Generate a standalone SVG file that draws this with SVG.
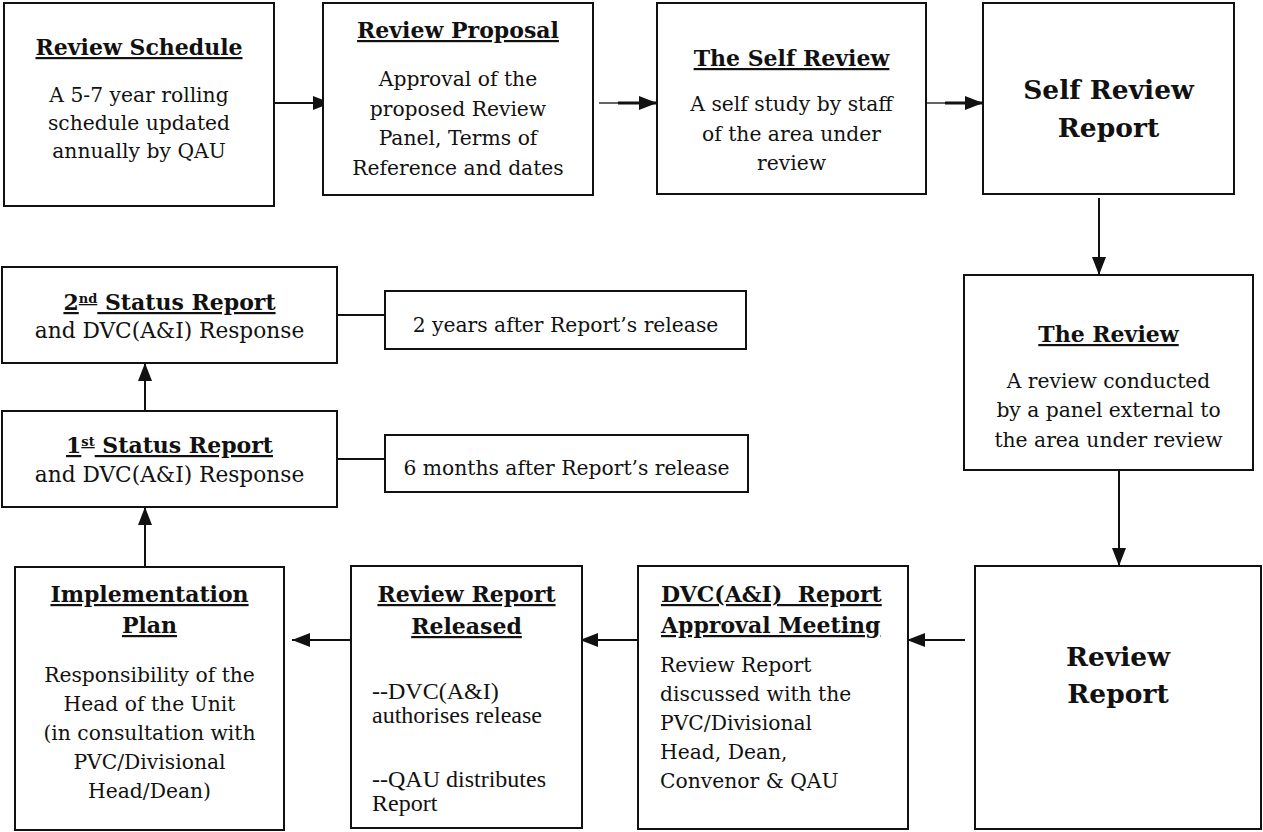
<svg xmlns="http://www.w3.org/2000/svg" width="1263" height="832" viewBox="0 0 1263 832">
<style>
.box{fill:#fff;stroke:#111;stroke-width:2}
.h{font-family:"DejaVu Serif",serif;font-weight:bold;font-size:22px;text-decoration:underline;text-anchor:middle;fill:#111}
.hl{font-family:"DejaVu Serif",serif;font-weight:bold;font-size:22px;text-decoration:underline;fill:#111}
.b{font-family:"DejaVu Serif",serif;font-size:20.3px;text-anchor:middle;fill:#111}
.bl{font-family:"DejaVu Serif",serif;font-size:20.3px;fill:#111}
.bs{font-family:"DejaVu Serif",serif;font-size:21.7px;text-anchor:middle;fill:#111}
.big{font-family:"DejaVu Serif",serif;font-weight:bold;font-size:26.5px;text-anchor:middle;fill:#111}
.t{font-family:"Liberation Serif","Times New Roman",serif;font-size:24px;fill:#111}
.c{stroke:#111;stroke-width:2;fill:none}
.ct{stroke:#111;stroke-width:1.3;fill:none}
.ck{stroke:#111;stroke-width:3;fill:none}
</style>
<defs>
<marker id="ah" markerUnits="userSpaceOnUse" markerWidth="18" markerHeight="14" refX="18" refY="7" orient="auto">
<path d="M0,0 L18,7 L0,14 z" fill="#111"/>
</marker>
</defs>

<g id="connectors">
<line class="c" x1="274" y1="103" x2="331" y2="103" marker-end="url(#ah)"/>
<line class="ct" x1="599" y1="103" x2="619" y2="103"/>
<line class="ck" x1="618" y1="103" x2="657" y2="103" marker-end="url(#ah)"/>
<line class="ct" x1="926" y1="103" x2="946" y2="103"/>
<line class="ck" x1="945" y1="103" x2="983" y2="103" marker-end="url(#ah)"/>
<line class="c" x1="1099" y1="198" x2="1099" y2="275" marker-end="url(#ah)"/>
<line class="c" x1="1119" y1="470" x2="1119" y2="566" marker-end="url(#ah)"/>
<line class="c" x1="965" y1="640" x2="907" y2="640" marker-end="url(#ah)"/>
<line class="c" x1="638" y1="640" x2="580" y2="640" marker-end="url(#ah)"/>
<line class="c" x1="351" y1="640" x2="292" y2="640" marker-end="url(#ah)"/>
<line class="c" x1="145" y1="567" x2="145" y2="507" marker-end="url(#ah)"/>
<line class="c" x1="145" y1="411" x2="145" y2="363" marker-end="url(#ah)"/>
<line class="c" x1="337" y1="315" x2="385" y2="315"/>
<line class="c" x1="337" y1="459" x2="385" y2="459"/>
</g>

<g id="review-schedule">
<rect class="box" x="4" y="3" width="270" height="203"/>
<text class="h" x="139" y="55">Review Schedule</text>
<text class="b" x="139" y="102">A 5-7 year rolling</text>
<text class="b" x="139" y="130">schedule updated</text>
<text class="b" x="139" y="158">annually by QAU</text>
</g>

<g id="review-proposal">
<rect class="box" x="323" y="3" width="270" height="192"/>
<text class="h" x="458" y="38">Review Proposal</text>
<text class="b" x="458" y="86">Approval of the</text>
<text class="b" x="458" y="115.5">proposed Review</text>
<text class="b" x="458" y="145">Panel, Terms of</text>
<text class="b" x="458" y="174.5">Reference and dates</text>
</g>

<g id="self-review">
<rect class="box" x="657" y="3" width="269" height="191"/>
<text class="h" x="791.5" y="66">The Self Review</text>
<text class="b" x="791.5" y="111">A self study by staff</text>
<text class="b" x="791.5" y="141">of the area under</text>
<text class="b" x="791.5" y="170">review</text>
</g>

<g id="self-review-report">
<rect class="box" x="983" y="3" width="251" height="191"/>
<text class="big" x="1108.5" y="99">Self Review</text>
<text class="big" x="1108.5" y="137">Report</text>
</g>

<g id="the-review">
<rect class="box" x="964" y="275" width="289" height="195"/>
<text class="h" x="1108.5" y="342">The Review</text>
<text class="b" x="1108.5" y="388">A review conducted</text>
<text class="b" x="1108.5" y="417">by a panel external to</text>
<text class="b" x="1108.5" y="447">the area under review</text>
</g>

<g id="review-report">
<rect class="box" x="975" y="566" width="286" height="263"/>
<text class="big" x="1118" y="666">Review</text>
<text class="big" x="1118" y="703">Report</text>
</g>

<g id="dvc-approval-meeting">
<rect class="box" x="638" y="566" width="270" height="263"/>
<text class="hl" x="661" y="602" xml:space="preserve">DVC(A&amp;I)  Report</text>
<text class="hl" x="661" y="633">Approval Meeting</text>
<text class="bl" x="660" y="672">Review Report</text>
<text class="bl" x="660" y="701">discussed with the</text>
<text class="bl" x="660" y="730">PVC/Divisional</text>
<text class="bl" x="660" y="759">Head, Dean,</text>
<text class="bl" x="660" y="788">Convenor &amp; QAU</text>
</g>

<g id="review-report-released">
<rect class="box" x="351" y="566" width="231" height="262"/>
<text class="h" x="466.5" y="602">Review Report</text>
<text class="h" x="466.5" y="634">Released</text>
<text class="t" x="372" y="699">--DVC(A&amp;I)</text>
<text class="t" x="372" y="723">authorises release</text>
<text class="t" x="372" y="787">--QAU distributes</text>
<text class="t" x="372" y="811">Report</text>
</g>

<g id="implementation-plan">
<rect class="box" x="15" y="567" width="269" height="263"/>
<text class="h" x="149.5" y="602">Implementation</text>
<text class="h" x="149.5" y="633">Plan</text>
<text class="b" x="149.5" y="682">Responsibility of the</text>
<text class="b" x="149.5" y="711">Head of the Unit</text>
<text class="b" x="149.5" y="740">(in consultation with</text>
<text class="b" x="149.5" y="769">PVC/Divisional</text>
<text class="b" x="149.5" y="798">Head/Dean)</text>
</g>

<g id="first-status-report">
<rect class="box" x="2" y="411" width="335" height="96"/>
<text class="h" x="169.5" y="453">1<tspan font-size="13" baseline-shift="super">st</tspan> Status Report</text>
<text class="bs" x="169.5" y="482">and DVC(A&amp;I) Response</text>
</g>

<g id="second-status-report">
<rect class="box" x="2" y="267" width="335" height="96"/>
<text class="h" x="169.5" y="310">2<tspan font-size="13" baseline-shift="super">nd</tspan> Status Report</text>
<text class="bs" x="169.5" y="338">and DVC(A&amp;I) Response</text>
</g>

<g id="two-years-note">
<rect class="box" x="385" y="291" width="361" height="58"/>
<text class="b" x="565.5" y="332">2 years after Report’s release</text>
</g>

<g id="six-months-note">
<rect class="box" x="385" y="435" width="363" height="57"/>
<text class="b" x="566.5" y="475">6 months after Report’s release</text>
</g>
</svg>
